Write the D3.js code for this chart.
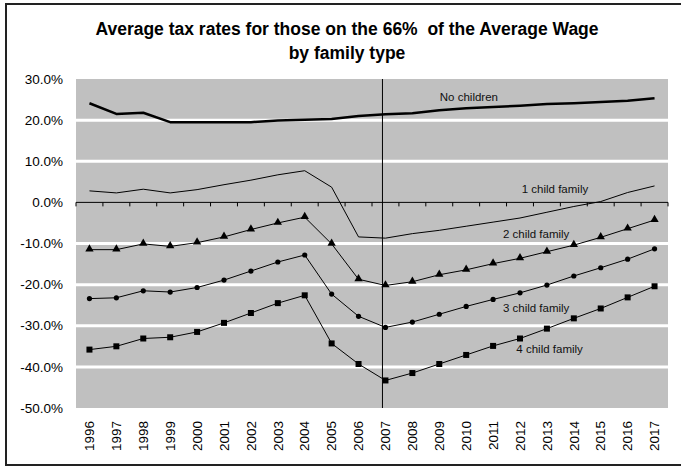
<!DOCTYPE html>
<html>
<head>
<meta charset="utf-8">
<script src="https://cdn.jsdelivr.net/npm/d3@7"></script>
<style>
  body { margin: 0; background: #fff; }
  svg { display: block; font-family: "Liberation Sans", Arial, sans-serif; }
</style>
</head>
<body>
<div class="chart"></div>
<script>
// Average tax rates by family type, 1996-2017

var years = [1996, 1997, 1998, 1999, 2000, 2001, 2002, 2003, 2004, 2005, 2006,
             2007, 2008, 2009, 2010, 2011, 2012, 2013, 2014, 2015, 2016, 2017];

var noChildren = [24.1, 21.5, 21.8, 19.5, 19.5, 19.5, 19.5, 19.9, 20.1, 20.3, 21.0,
                  21.4, 21.7, 22.4, 22.9, 23.2, 23.5, 23.9, 24.1, 24.4, 24.7, 25.3];
var oneChild   = [2.8, 2.3, 3.2, 2.3, 3.1, 4.3, 5.4, 6.7, 7.7, 3.7, -8.4,
                  -8.7, -7.6, -6.8, -5.8, -4.8, -3.8, -2.4, -1.0, 0.2, 2.4, 4.0];
var twoChild   = [-11.5, -11.5, -10.1, -10.7, -9.8, -8.4, -6.6, -5.0, -3.6, -10.1, -18.7,
                  -20.2, -19.3, -17.6, -16.4, -14.9, -13.6, -12.0, -10.4, -8.5, -6.4, -4.3];
var threeChild = [-23.4, -23.2, -21.5, -21.8, -20.7, -18.9, -16.7, -14.5, -12.8, -22.3, -27.7,
                  -30.4, -29.1, -27.2, -25.3, -23.6, -22.0, -20.1, -17.9, -15.9, -13.8, -11.3];
var fourChild  = [-35.8, -35.0, -33.1, -32.8, -31.5, -29.3, -26.9, -24.5, -22.6, -34.3, -39.3,
                  -43.3, -41.5, -39.3, -37.1, -34.9, -33.1, -30.7, -28.2, -25.8, -23.1, -20.4];

var yTicks = [30, 20, 10, 0, -10, -20, -30, -40, -50];
var markYear = 2007;

var width = 681, height = 466,
    plot = {left: 76, right: 668, top: 79, bottom: 408};

var svg = d3.select(".chart").append("svg")
    .attr("width", width)
    .attr("height", height);

// frame
svg.append("rect")
    .attr("x", 6).attr("y", 4)
    .attr("width", 700).attr("height", 461)
    .attr("fill", "#fff")
    .attr("stroke", "#222")
    .attr("stroke-width", 2);

var x = d3.scaleBand().domain(years).range([plot.left, plot.right]),
    xl = d3.scaleLinear().domain([years[0] - 0.5, years[years.length - 1] + 0.5]).range([plot.left, plot.right]),
    y = d3.scaleLinear().domain([-50, 30]).range([plot.bottom, plot.top]);

function cx(yr) { return x(yr) + x.bandwidth() / 2; }

svg.append("rect")
    .attr("x", plot.left).attr("y", plot.top)
    .attr("width", plot.right - plot.left)
    .attr("height", plot.bottom - plot.top)
    .attr("fill", "#c0c0c0");

// white gridlines
svg.append("g").selectAll("line")
    .data(yTicks.filter(function(d) { return d !== 0 && d !== 30 && d !== -50; }))
    .enter().append("line")
    .attr("x1", plot.left).attr("x2", plot.right)
    .attr("y1", function(d) { return y(d); })
    .attr("y2", function(d) { return y(d); })
    .attr("stroke", "#fff")
    .attr("stroke-width", 3);

// y labels
svg.append("g").selectAll("text")
    .data(yTicks)
    .enter().append("text")
    .attr("x", 63)
    .attr("y", function(d) { return y(d); })
    .attr("dy", "0.35em")
    .attr("text-anchor", "end")
    .style("font-size", "13.5px")
    .attr("fill", "#000")
    .text(function(d) { return d.toFixed(1) + "%"; });

// zero axis with ticks at band edges
var edges = years.map(function(d) { return x(d); }).concat([plot.right]);
svg.append("line")
    .attr("x1", plot.left).attr("x2", plot.right)
    .attr("y1", y(0)).attr("y2", y(0))
    .attr("stroke", "#000").attr("stroke-width", 1);
svg.append("g").selectAll("line")
    .data(edges)
    .enter().append("line")
    .attr("x1", function(d) { return d; }).attr("x2", function(d) { return d; })
    .attr("y1", y(0)).attr("y2", y(0) + 4)
    .attr("stroke", "#000").attr("stroke-width", 1);

// year labels
svg.append("g").selectAll("text")
    .data(years)
    .enter().append("text")
    .attr("transform", function(d) { return "translate(" + cx(d) + "," + (plot.bottom + 13) + ") rotate(-90)"; })
    .attr("dy", "0.35em")
    .attr("text-anchor", "end")
    .style("font-size", "13.5px")
    .text(function(d) { return d; });

// vertical marker line
svg.append("line")
    .attr("x1", cx(markYear) - 3).attr("x2", cx(markYear) - 3)
    .attr("y1", plot.top).attr("y2", plot.bottom)
    .attr("stroke", "#000").attr("stroke-width", 1);

var line = d3.line()
    .x(function(d, i) { return cx(years[i]); })
    .y(function(d) { return y(d); });

function drawSeries(values, w) {
  svg.append("path")
      .datum(values)
      .attr("d", line)
      .attr("fill", "none")
      .attr("stroke", "#000")
      .attr("stroke-width", w)
      .attr("stroke-linejoin", "round");
}

drawSeries(noChildren, 2.5);
drawSeries(oneChild, 1);
drawSeries(twoChild, 1);
drawSeries(threeChild, 1);
drawSeries(fourChild, 1);

// markers
svg.append("g").selectAll("path")
    .data(twoChild)
    .enter().append("path")
    .attr("d", d3.symbol().type(d3.symbolTriangle).size(30))
    .attr("transform", function(d, i) { return "translate(" + cx(years[i]) + "," + (y(d) - 0.5) + ")"; })
    .attr("fill", "#000");

svg.append("g").selectAll("circle")
    .data(threeChild)
    .enter().append("circle")
    .attr("cx", function(d, i) { return cx(years[i]); })
    .attr("cy", function(d) { return y(d); })
    .attr("r", 2.6)
    .attr("fill", "#000");

svg.append("g").selectAll("rect")
    .data(fourChild)
    .enter().append("rect")
    .attr("x", function(d, i) { return cx(years[i]) - 3; })
    .attr("y", function(d) { return y(d) - 3; })
    .attr("width", 6).attr("height", 6)
    .attr("fill", "#000");

// series labels (year, value positions in data space)
var labelText = ["No children", "1 child family", "2 child family", "3 child family", "4 child family"];
var labelYear = [2010.1, 2013.3, 2012.6, 2012.6, 2013.1];
var labelValue = [25.7, 3.3, -7.8, -25.6, -35.7];

svg.append("g").selectAll("text")
    .data(labelText)
    .enter().append("text")
    .attr("x", function(d, i) { return xl(labelYear[i]); })
    .attr("y", function(d, i) { return y(labelValue[i]); })
    .attr("dy", "0.35em")
    .attr("text-anchor", "middle")
    .style("font-size", "11.5px")
    .attr("fill", "#111")
    .text(function(d) { return d; });

// title
var title = svg.append("text")
    .attr("text-anchor", "middle")
    .style("font-size", "17.5px")
    .style("font-weight", "bold");
title.append("tspan").attr("x", 347).attr("y", 35)
    .text("Average tax rates for those on the 66%\u00a0 of the Average Wage");
title.append("tspan").attr("x", 347).attr("y", 59)
    .text("by family type");
</script>
</body>
</html>
